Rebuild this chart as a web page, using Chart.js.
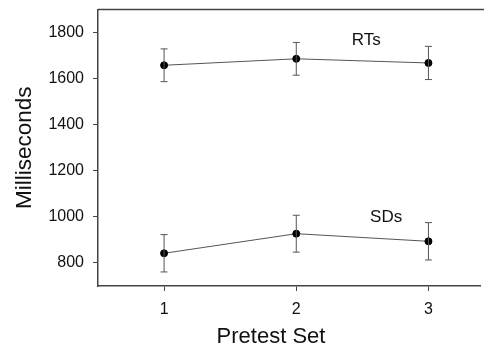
<!DOCTYPE html>
<html lang="en">
<head>
    <meta charset="UTF-8">
    <title>Pretest Set RTs and SDs</title>
    <script src="https://cdn.jsdelivr.net/npm/chart.js"></script>
    <style>
        body { margin: 0; background: #fff; }
    </style>
</head>
<body>
    <canvas id="pretestChart" width="485" height="348"></canvas>
    <script>
        // values
        const pretestSets = [1, 2, 3];
        const rtMeans = [1658, 1686, 1668];
        const rtErrors = [71, 71, 72];
        const sdMeans = [842, 927, 894];
        const sdErrors = [81, 80, 81];
        const yTicks = [800, 1000, 1200, 1400, 1600, 1800];
        const seriesLabels = ['RTs', 'SDs'];
        const labelAt = [[2.53, 1767], [2.68, 999]];

        const FONT = '"Liberation Sans", Arial, sans-serif';
        const INK = '#111';

        // error bars, the top frame line, series labels and the x title
        const extras = {
            id: 'extras',
            afterDatasetsDraw(chart) {
                const ctx = chart.ctx;
                const xs = chart.scales.x, ys = chart.scales.y;
                const area = chart.chartArea;
                ctx.save();
                ctx.strokeStyle = '#555';
                ctx.lineWidth = 1;
                [[rtMeans, rtErrors], [sdMeans, sdErrors]].forEach(([means, errs]) => {
                    means.forEach((m, i) => {
                        const x = xs.getPixelForValue(pretestSets[i]);
                        const yTop = ys.getPixelForValue(m + errs[i]);
                        const yBot = ys.getPixelForValue(m - errs[i]);
                        ctx.beginPath();
                        ctx.moveTo(x, yTop); ctx.lineTo(x, yBot);
                        ctx.moveTo(x - 3.5, yTop); ctx.lineTo(x + 3.5, yTop);
                        ctx.moveTo(x - 3.5, yBot); ctx.lineTo(x + 3.5, yBot);
                        ctx.stroke();
                    });
                });
                // top frame line
                ctx.strokeStyle = '#444';
                ctx.lineWidth = 1.5;
                ctx.beginPath();
                ctx.moveTo(area.left, area.top);
                ctx.lineTo(area.right + 4, area.top);
                ctx.stroke();

                ctx.fillStyle = INK;
                ctx.textAlign = 'center';
                ctx.textBaseline = 'middle';
                ctx.font = '17px ' + FONT;
                seriesLabels.forEach((t, i) => {
                    ctx.fillText(t, xs.getPixelForValue(labelAt[i][0]), ys.getPixelForValue(labelAt[i][1]));
                });
                ctx.font = '22px ' + FONT;
                ctx.fillText('Pretest Set', 271, 337);
                ctx.restore();
            }
        };

        const ctx = document.getElementById('pretestChart').getContext('2d');
        const pretestChart = new Chart(ctx, {
            type: 'line',
            data: {
                datasets: [
                    {
                        label: seriesLabels[0],
                        data: pretestSets.map((s, i) => ({ x: s, y: rtMeans[i] })),
                        borderColor: '#555',
                        borderWidth: 1,
                        pointBackgroundColor: '#000',
                        pointBorderColor: '#000',
                        pointRadius: 3.5,
                        fill: false
                    },
                    {
                        label: seriesLabels[1],
                        data: pretestSets.map((s, i) => ({ x: s, y: sdMeans[i] })),
                        borderColor: '#555',
                        borderWidth: 1,
                        pointBackgroundColor: '#000',
                        pointBorderColor: '#000',
                        pointRadius: 3.5,
                        fill: false
                    }
                ]
            },
            options: {
                responsive: false,
                animation: false,
                layout: { padding: { top: 9.5, right: 0, left: 0, bottom: 0 } },
                plugins: {
                    legend: { display: false },
                    tooltip: { enabled: false }
                },
                scales: {
                    x: {
                        type: 'linear',
                        min: 0.5,
                        max: 3.39,
                        afterBuildTicks: scale => { scale.ticks = pretestSets.map(v => ({ value: v })); },
                        afterFit: scale => {
                            scale.height = 62;
                            scale.paddingLeft = 0;
                            scale.paddingRight = 0;
                        },
                        grid: { drawOnChartArea: false, tickLength: 5, color: '#444' },
                        border: { color: '#444', width: 1.5 },
                        ticks: { color: INK, padding: 9, font: { family: FONT, size: 16 } }
                    },
                    y: {
                        min: 700,
                        max: 1900,
                        afterBuildTicks: scale => { scale.ticks = yTicks.map(v => ({ value: v })); },
                        afterFit: scale => {
                            scale.width = 98;
                            scale.paddingTop = 0;
                            scale.paddingBottom = 0;
                        },
                        grid: { drawOnChartArea: false, tickLength: 5, color: '#444' },
                        border: { color: '#444', width: 1.5 },
                        ticks: {
                            color: INK,
                            padding: 9,
                            font: { family: FONT, size: 16 },
                            callback: v => String(v)
                        },
                        title: {
                            display: true,
                            text: 'Milliseconds',
                            color: INK,
                            padding: { top: 11, bottom: 0 },
                            font: { family: FONT, size: 22.5 }
                        }
                    }
                }
            },
            plugins: [extras]
        });
    </script>
</body>
</html>
